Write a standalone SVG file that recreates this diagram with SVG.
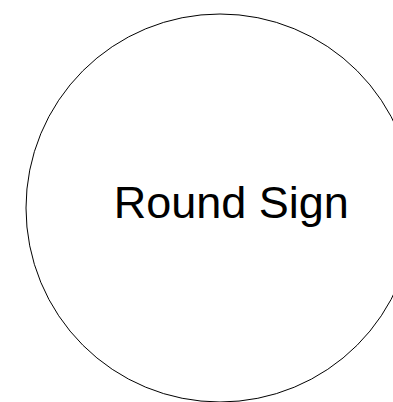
<svg xmlns="http://www.w3.org/2000/svg" width="393" height="402" viewBox="0 0 393 402">
<style>
.shape{fill:#ffffff;stroke:#000000;stroke-width:1}
.label{font-family:"Liberation Sans",Arial,sans-serif;font-size:45px;fill:#000000;text-anchor:middle}
</style>
<rect width="393" height="402" fill="#ffffff"/>
<g id="round-sign">
<circle class="shape" cx="220" cy="208" r="194"/>
<text class="label" x="231.3" y="217.7">Round Sign</text>
</g>
<g id="connectors"/>
</svg>
